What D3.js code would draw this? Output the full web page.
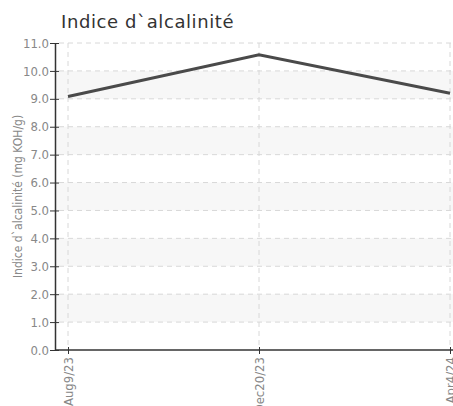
<!DOCTYPE html>
<html lang="fr">
<head>
<meta charset="UTF-8">
<title>Indice d`alcalinité</title>
<script src="https://d3js.org/d3.v7.min.js"></script>
<style>
  body { margin: 0; background: #fff; }
  .tick text { font-family: "Liberation Sans Narrow", "DejaVu Sans Condensed", "Roboto", sans-serif; }
</style>
</head>
<body>
<svg width="453" height="406"></svg>
<script>
// Data
const dates = ["Aug9/23", "Dec20/23", "Apr4/24"];
const values = [9.08, 10.58, 9.2];
const yTicks = [0, 1, 2, 3, 4, 5, 6, 7, 8, 9, 10, 11];

const svg = d3.select("svg");
const plotLeft = 55, plotTop = 43, plotBottom = 350, plotRight = 453;
const condensed = "'Liberation Sans Narrow', 'DejaVu Sans Condensed', Roboto, sans-serif";

const x = d3.scalePoint().domain(dates).range([68, 450]);
const y = d3.scaleLinear().domain([0, 11]).range([plotBottom, plotTop]);

// alternating bands
svg.append("g").selectAll("rect")
    .data(yTicks.filter(t => t % 2 === 1 && t < 11))
    .enter().append("rect")
    .attr("x", plotLeft)
    .attr("width", plotRight - plotLeft)
    .attr("y", d => y(d + 1))
    .attr("height", d => y(d) - y(d + 1))
    .attr("fill", "#f7f7f7");

// horizontal grid
svg.append("g").selectAll("line")
    .data(yTicks.filter(t => t > 0))
    .enter().append("line")
    .attr("x1", plotLeft + 4).attr("x2", plotRight)
    .attr("y1", d => y(d)).attr("y2", d => y(d))
    .attr("stroke", "#d8d8d8")
    .attr("stroke-dasharray", "5,4");

// vertical grid
svg.append("g").selectAll("line")
    .data(dates)
    .enter().append("line")
    .attr("x1", d => x(d)).attr("x2", d => x(d))
    .attr("y1", plotTop).attr("y2", plotBottom)
    .attr("stroke", "#d8d8d8")
    .attr("stroke-dasharray", "5,4");

// line
const line = d3.line()
    .x((d, i) => x(dates[i]))
    .y(d => y(d));

svg.append("path")
    .datum(values)
    .attr("d", line)
    .attr("fill", "none")
    .attr("stroke", "#4a4a4a")
    .attr("stroke-width", 3);

// y axis
const yAxis = svg.append("g")
    .attr("transform", `translate(${plotLeft},0)`)
    .call(d3.axisLeft(y).tickValues(yTicks).tickFormat(d3.format(".1f")).tickSizeOuter(0));
yAxis.select(".domain").attr("stroke", "#333").attr("stroke-width", 1.5);
yAxis.selectAll(".tick line").attr("x1", -5).attr("x2", 4).attr("stroke", "#333");
yAxis.selectAll(".tick text")
    .attr("x", -6)
    .attr("fill", "#888")
    .attr("font-size", 13);

// x axis
const xAxis = svg.append("g")
    .attr("transform", `translate(0,${plotBottom})`)
    .call(d3.axisBottom(x).tickSizeOuter(0));
xAxis.select(".domain")
    .attr("d", `M${plotLeft},0H${plotRight}`)
    .attr("stroke", "#333").attr("stroke-width", 1.5);
xAxis.selectAll(".tick line").attr("y1", -3).attr("y2", 4).attr("stroke", "#333");
xAxis.selectAll(".tick text")
    .attr("transform", "rotate(-90)")
    .attr("text-anchor", "end")
    .attr("x", -7)
    .attr("y", 0)
    .attr("dy", "0.35em")
    .attr("fill", "#888")
    .attr("font-size", 13);

// title
svg.append("text")
    .attr("x", 61)
    .attr("y", 28)
    .attr("font-family", "'DejaVu Sans', sans-serif")
    .attr("font-size", 18)
    .attr("letter-spacing", 0.6)
    .attr("fill", "#333")
    .text("Indice d`alcalinité");

// y axis title
svg.append("text")
    .attr("transform", `translate(22,${(plotTop + plotBottom) / 2}) rotate(-90)`)
    .attr("text-anchor", "middle")
    .attr("font-family", condensed)
    .attr("font-size", 12)
    .attr("fill", "#888")
    .text("Indice d`alcalinité (mg KOH/g)");
</script>
</body>
</html>
